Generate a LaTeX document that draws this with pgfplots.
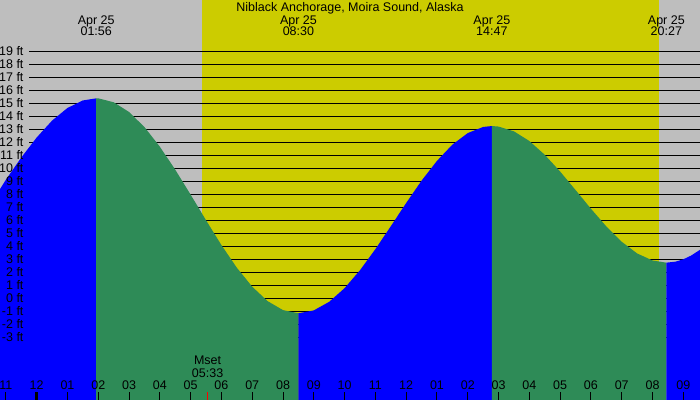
\documentclass[border=0pt]{standalone}
\usepackage{fontspec}
\setmainfont{Liberation Sans}
\usepackage{pgfplots}
\pgfplotsset{compat=1.18}
\definecolor{nightgray}{HTML}{BEBEBE}
\definecolor{dayyellow}{HTML}{CCCC00}
\definecolor{risingblue}{HTML}{0000FF}
\definecolor{fallinggreen}{HTML}{2E8B57}

% hour label at the bottom edge
\newcommand{\hr}[2]{\node[anchor=base, yshift=10pt] at (axis cs:#1,-7.823) {#2};}
% high / low label at the top edge
\newcommand{\hilo}[2]{%
  \node[anchor=base, yshift=-25pt] at (axis cs:#1,22.946) {Apr 25};
  \node[anchor=base, yshift=-36pt] at (axis cs:#1,22.946) {#2};}

\begin{document}
\begin{tikzpicture}[font=\fontsize{12.5}{14}\selectfont]
\begin{axis}[
  width=700pt, height=400pt, scale only axis,
  xmin=-1.192, xmax=21.543, ymin=-7.823, ymax=22.946,
  axis lines=none, clip=false,
  axis background/.style={fill=nightgray},
]
% daylight
\addplot[fill=dayyellow, draw=none] coordinates {(5.37,-7.823) (5.37,22.946) (20.21,22.946) (20.21,-7.823)};

% feet lines
\pgfplotsinvokeforeach{-3,...,19}{
  \addplot[black, line width=1pt] coordinates {(-0.25,#1) (21.543,#1)};
}

% rising tide
\addplot[fill=risingblue, draw=none] coordinates {
  (-1.192,-7.823) (-1.192,8.40) (-1.0,9.12) (-0.5,10.83) (0,12.37) (0.5,13.67)
  (1.0,14.64) (1.5,15.22) (1.9333,15.38) (1.9333,-7.823)};
% falling tide
\addplot[fill=fallinggreen, draw=none] coordinates {
  (1.9333,-7.823) (1.9333,15.38) (2.0,15.38) (2.5,15.08) (3.0,14.33) (3.5,13.17)
  (4.0,11.66) (4.5,9.89) (5.0,7.97) (5.5,6.00) (6.0,4.09) (6.5,2.35) (7.0,0.89)
  (7.5,-0.22) (8.0,-0.91) (8.5,-1.15) (8.5,-7.823)};
% rising tide
\addplot[fill=risingblue, draw=none] coordinates {
  (8.5,-7.823) (8.5,-1.15) (9.0,-0.93) (9.5,-0.27) (10.0,0.78) (10.5,2.16)
  (11.0,3.78) (11.5,5.54) (12.0,7.33) (12.5,9.05) (13.0,10.57) (13.5,11.82)
  (14.0,12.71) (14.5,13.18) (14.7833,13.25) (14.7833,-7.823)};
% falling tide
\addplot[fill=fallinggreen, draw=none] coordinates {
  (14.7833,-7.823) (14.7833,13.25) (15.0,13.21) (15.5,12.84) (16.0,12.10)
  (16.5,11.04) (17.0,9.75) (17.5,8.33) (18.0,6.89) (18.5,5.53) (19.0,4.35)
  (19.5,3.45) (20.0,2.91) (20.45,2.74) (20.45,-7.823)};
% rising tide
\addplot[fill=risingblue, draw=none] coordinates {
  (20.45,-7.823) (20.45,2.74) (20.75,2.82) (21.0,3.00) (21.25,3.28)
  (21.543,3.73) (21.543,-7.823)};

% hour ticks
\pgfplotsinvokeforeach{-1,1,2,...,21}{
  \addplot[black, line width=1pt] coordinates {(#1,-7.823) (#1,-7.208)};
}
\addplot[black, line width=3pt] coordinates {(0,-7.823) (0,-7.208)};
\addplot[red, line width=1pt] coordinates {(5.55,-7.823) (5.55,-7.208)};

% feet labels
\pgfplotsinvokeforeach{-3,...,19}{
  \node[anchor=base east, yshift=-4.5pt] at (axis cs:-0.315,#1) {#1 ft};
}

\hr{-1}{11} \hr{0}{12} \hr{1}{01} \hr{2}{02} \hr{3}{03} \hr{4}{04}
\hr{5}{05} \hr{6}{06} \hr{7}{07} \hr{8}{08} \hr{9}{09} \hr{10}{10}
\hr{11}{11} \hr{12}{12} \hr{13}{01} \hr{14}{02} \hr{15}{03} \hr{16}{04}
\hr{17}{05} \hr{18}{06} \hr{19}{07} \hr{20}{08} \hr{21}{09}

\node[anchor=base, yshift=35pt] at (axis cs:5.55,-7.823) {Mset};
\node[anchor=base, yshift=22pt] at (axis cs:5.55,-7.823) {05:33};

\hilo{1.9333}{01:56}
\hilo{8.5}{08:30}
\hilo{14.7833}{14:47}
\hilo{20.45}{20:27}

\node[anchor=base, yshift=-11.7pt] at (rel axis cs:0.5,1) {Niblack Anchorage, Moira Sound, Alaska};
\end{axis}
\pgfresetboundingbox
\path (current axis.south west) rectangle (current axis.north east);
\end{tikzpicture}
\end{document}
